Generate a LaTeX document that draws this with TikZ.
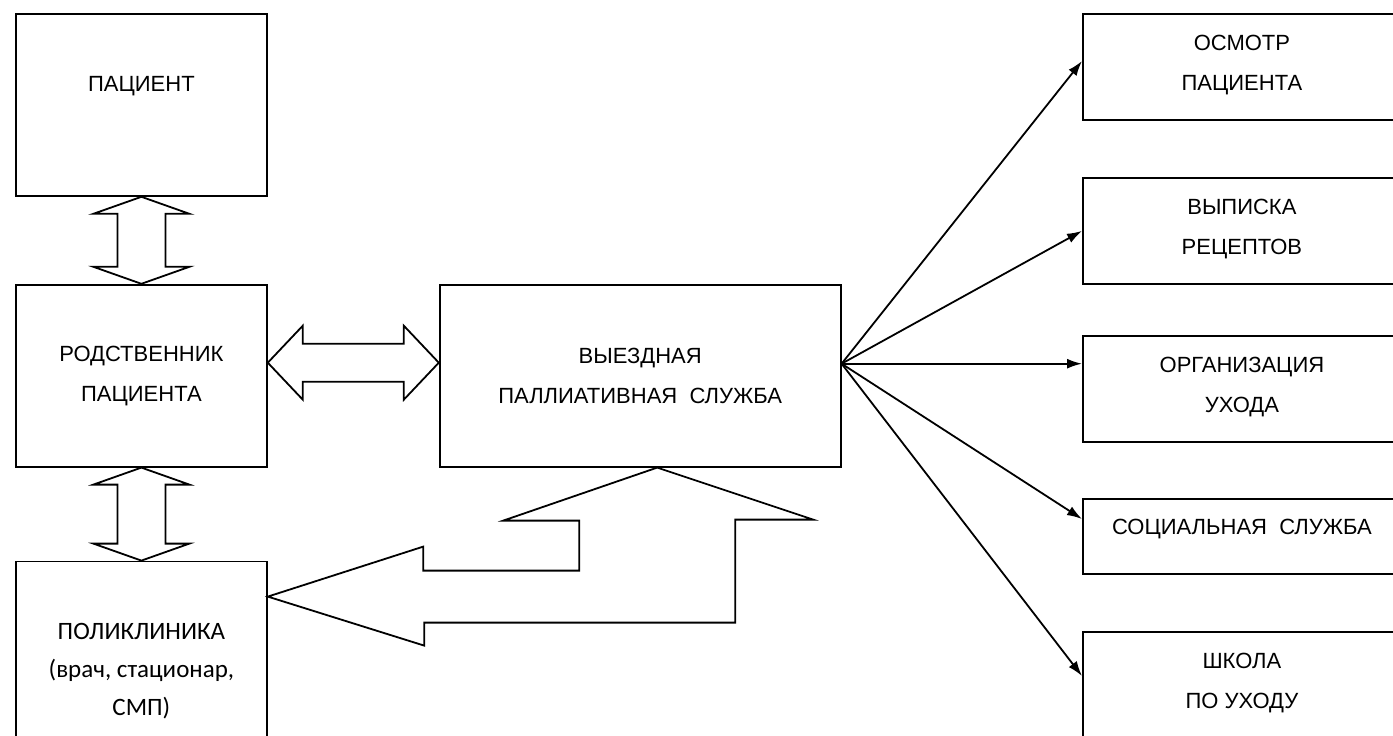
\documentclass[tikz,border=0pt]{standalone}
\usepackage{fontspec}
\setmainfont{Liberation Sans}
\newfontfamily\polyfont{Carlito}
\usetikzlibrary{positioning,arrows.meta}

\begin{document}
\begin{tikzpicture}[x=1pt,y=-1pt,
    box/.style={draw,line width=1.8pt,minimum width=251pt,minimum height=182pt,
      align=center,inner sep=0pt,font=\fontsize{22}{40}\selectfont},
    sidebox/.style={box,anchor=north west,minimum width=360pt},
    boxtext/.style={align=center,font=\fontsize{22}{40}\selectfont},
    fanarrow/.style={-{Latex[length=15pt,width=10pt]},line width=1.8pt},
    blockarrow/.style={draw,line width=1.8pt,fill=white,line join=miter}
  ]
    \useasboundingbox (0,0) rectangle (1393,736);
    % left column
    \node[box,anchor=north west] (pat) at (15,13) {};
    \node[boxtext] (patlabel) at ([yshift=19pt]pat.center) {ПАЦИЕНТ};
    \node[box,below=87pt of pat] (rel) {РОДСТВЕННИК\\ПАЦИЕНТА};
    \node[box,below=93pt of rel,minimum height=220pt,
      font=\polyfont\fontsize{25}{38}\selectfont] (pol) {ПОЛИКЛИНИКА\\(врач, стационар,\\СМП)};
    % centre
    \node[box,right=171pt of rel,minimum width=401pt] (out) {ВЫЕЗДНАЯ\\ПАЛЛИАТИВНАЯ~~СЛУЖБА};
    % right column
    \foreach \nm/\ytop/\hgt/\dy/\txt in {osm/13/106/2/{ОСМОТР\\ПАЦИЕНТА},
        vyp/177/106/2/{ВЫПИСКА\\РЕЦЕПТОВ}, org/335/106/2/{ОРГАНИЗАЦИЯ\\УХОДА},
        soc/498/75/7/{СОЦИАЛЬНАЯ~~СЛУЖБА}, shk/631/130/14/{ШКОЛА\\ПО~УХОДУ}} {
      \node[sidebox,minimum height=\hgt pt] (\nm) at (1082,\ytop) {};
      \node[boxtext] (\nm label) at ([xshift=-21pt,yshift=\dy pt]\nm.center) {\txt};
    }

    % block arrows
    \foreach \a/\b/\len in {pat/rel/53,rel/pol/59}
      \draw[blockarrow] (\a.south) -- ++(48,17) -- ++(-24,0) -- ++(0,\len) -- ++(24,0)
        -- (\b.north) -- ++(-48,-17) -- ++(24,0) -- ++(0,-\len) -- ++(-24,0) -- cycle;
    \draw[blockarrow] ([yshift=13pt]rel.east) -- ++(35,-37) -- ++(0,18) -- ++(101,0) -- ++(0,-18)
      -- ([yshift=13pt]out.west) -- ++(-35,37) -- ++(0,-18) -- ++(-101,0) -- ++(0,18) -- cycle;
    \draw[blockarrow] ([xshift=17pt]out.south) -- ++(156,52) -- ++(-78,0) -- ++(0,103)
      -- ++(-311,0) -- ++(0,23) -- ([yshift=-36pt]pol.north east) -- ++(155.5,-50)
      -- ++(0,24) -- ++(156,0) -- ++(0,-50) -- ++(-76,0) -- cycle;

    % fan
    \coordinate (hub) at ([yshift=12pt]out.east);
    \draw[fanarrow] (hub) -- ([yshift=-48pt]osm.north west);
    \draw[fanarrow] (hub) -- (vyp.west);
    \draw[fanarrow] (hub) -- (hub -| org.west);
    \draw[fanarrow] (hub) -- ([yshift=-21pt]soc.north west);
    \draw[fanarrow] (hub) -- ([yshift=-45pt]shk.north west);
\end{tikzpicture}
\end{document}
